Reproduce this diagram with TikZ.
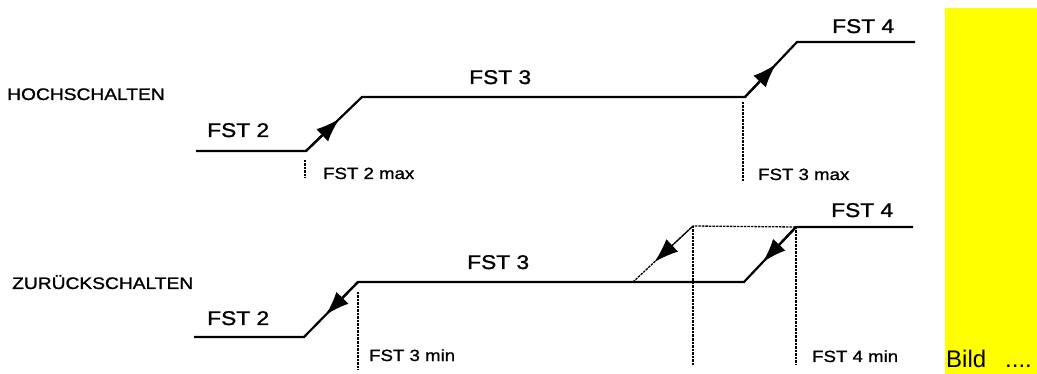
\documentclass[tikz,border=0pt]{standalone}
\usepackage{fontspec}
\setmainfont{Liberation Sans}
\newfontfamily\widefont[FakeStretch=1.15,FakeBold=1.2]{Liberation Sans}
\usetikzlibrary{arrows.meta,calc}
\definecolor{pureyellow}{RGB}{255,255,0}
\begin{document}
\begin{tikzpicture}[x=1pt,y=-1pt,
  lvl/.style={line width=2.2pt, line join=miter},
  dsh/.style={line width=1.3pt, dash pattern=on 2.5pt off 1pt},
  tip/.style={-{Latex[length=24pt,width=17pt]}},
  big/.style={font=\widefont\fontsize{19.8}{22}\selectfont, inner sep=0pt, anchor=base west},
  small/.style={font=\widefont\fontsize{16.2}{18}\selectfont, inner sep=0pt, anchor=base west},
  head/.style={font=\widefont\fontsize{16.7}{18}\selectfont, inner sep=0pt, anchor=base west},
]
\useasboundingbox (0,0) rectangle (1037,374);
\fill[pureyellow] (945,8) rectangle (1037,374);
\node[font=\fontsize{24}{26}\selectfont, inner sep=0pt, anchor=base west] (bild) at (946,367) {Bild\hspace{19pt}....};

% headings
\node[head] (hoch) at (7,100) {HOCHSCHALTEN};
\node[head] (zur) at (12,289) {ZURÜCKSCHALTEN};

% top row (upshift)
\coordinate (t1) at (196,151);
\coordinate (t2) at (306,151);
\coordinate (t3) at (362,97);
\coordinate (t4) at (745,97);
\coordinate (t5) at (797,42);
\coordinate (t6) at (915,42);
\draw[lvl] (t1) -- (t2) -- (t3) -- (t4) -- (t5) -- (t6);
\draw[lvl,tip] (t2) -- ($(t2)!0.6!(t3)$);
\draw[lvl,tip] (t4) -- ($(t4)!0.6!(t5)$);

\coordinate (tv1a) at (305,160);
\coordinate (tv1b) at (305,178);
\coordinate (tv2a) at (743,102);
\coordinate (tv2b) at (743,182);
\draw[dsh] (tv1a) -- (tv1b);
\draw[dsh] (tv2a) -- (tv2b);

\node[big] (tf2) at (207,137) {FST 2};
\node[big] (tf3) at (469,84) {FST 3};
\node[big] (tf4) at (832,33) {FST 4};
\node[small] (tm2) at (323,179) {FST 2 max};
\node[small] (tm3) at (758,180) {FST 3 max};

% bottom row (downshift)
\coordinate (b1) at (194,337);
\coordinate (b2) at (304,337);
\coordinate (b3) at (358,282);
\coordinate (b4) at (744,282);
\coordinate (b5) at (796,227);
\coordinate (b6) at (913,227);
\draw[lvl] (b1) -- (b2) -- (b3) -- (b4) -- (b5) -- (b6);
\draw[lvl,tip] (b3) -- ($(b3)!0.6!(b2)$);
\draw[lvl,tip] (b5) -- ($(b5)!0.64!(b4)$);

\coordinate (d1) at (633,282);
\coordinate (d2) at (693,226);
\draw[dsh] (d1) -- (d2) -- (b5);
\draw[line width=1pt,tip] (d2) -- ($(d2)!0.64!(d1)$);

\coordinate (bv1a) at (358,292);
\coordinate (bv1b) at (358,370);
\coordinate (bv2b) at (693,365);
\coordinate (bv3b) at (796,365);
\draw[dsh] (bv1a) -- (bv1b);
\draw[dsh] (d2) -- (bv2b);
\draw[dsh] (b5) -- (bv3b);

\node[big] (bf2) at (207,325) {FST 2};
\node[big] (bf3) at (467,269) {FST 3};
\node[big] (bf4) at (831,217) {FST 4};
\node[small] (bm3) at (369,361) {FST 3 min};
\node[small] (bm4) at (812,362) {FST 4 min};
\end{tikzpicture}
\end{document}
